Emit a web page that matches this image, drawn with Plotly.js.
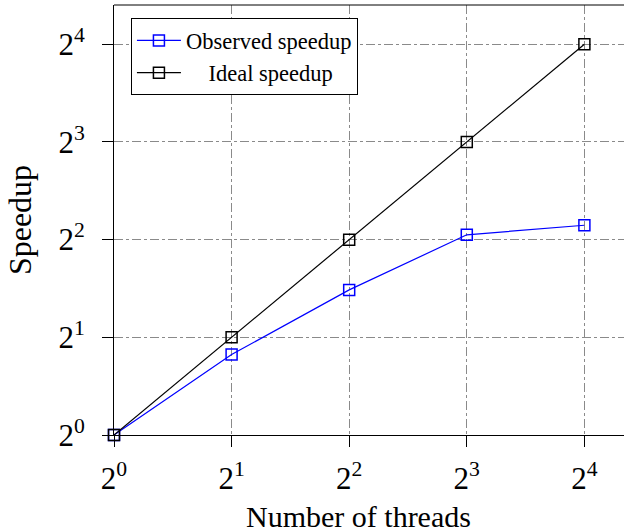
<!DOCTYPE html>
<html>
<head>
<meta charset="utf-8">
<script src="https://cdn.plot.ly/plotly-3.0.1.min.js"></script>
<style>html,body{margin:0;padding:0;overflow:hidden;background:#fff;width:624px;height:532px}</style>
</head>
<body>
<div id="chart" style="width:660px;height:532px"></div>
<script>
const threads = [1, 2, 4, 8, 16];
const observed = [1, 1.77, 2.80, 4.14, 4.43];
const ideal = [1, 2, 4, 8, 16];
const tickVals = [1, 2, 4, 8, 16];
const tickText = ['2<sup>0</sup>', '2<sup>1</sup>', '2<sup>2</sup>', '2<sup>3</sup>', '2<sup>4</sup>'];
const seriesNames = ['Observed speedup', '\u00a0\u00a0\u00a0\u00a0Ideal speedup'];
const xTitle = 'Number of threads';
const yTitle = 'Speedup';

const L2 = Math.log10(2);
const fontFam = '"Liberation Serif", "DejaVu Serif", serif';

const traces = [
  {x: threads, y: observed, name: seriesNames[0], mode: 'lines+markers', cliponaxis: false,
   line: {color: '#0000ff', width: 1.2},
   marker: {symbol: 'square-open', size: 11, color: '#0000ff', line: {width: 1.5}}},
  {x: threads, y: ideal, name: seriesNames[1], mode: 'lines+markers', cliponaxis: false,
   line: {color: '#000000', width: 1.2},
   marker: {symbol: 'square-open', size: 11, color: '#000000', line: {width: 1.5}}}
];

const layout = {
  width: 660, height: 532,
  margin: {l: 114, r: 0, t: 5, b: 97},
  paper_bgcolor: '#fff', plot_bgcolor: '#fff',
  font: {family: fontFam, color: '#000', size: 24},
  showlegend: true,
  legend: {x: 0.031, y: 0.969, xanchor: 'left', yanchor: 'top',
    bgcolor: '#fff', bordercolor: '#000', borderwidth: 1, itemwidth: 44,
    font: {family: fontFam, size: 22.5, color: '#000'}, tracegroupgap: 0},
  shapes: [
    {type: 'line', xref: 'paper', yref: 'paper', x0: 0, x1: 1, y0: 1, y1: 1,
     line: {color: '#000', width: 1}}
  ],
  annotations: [
    {text: xTitle, xref: 'paper', yref: 'paper', x: 0.447, y: -0.19,
     xanchor: 'center', yanchor: 'middle', showarrow: false,
     font: {family: fontFam, size: 30, color: '#000'}},
    {text: yTitle, xref: 'paper', yref: 'paper', x: -0.172, y: 0.5, textangle: -90,
     xanchor: 'center', yanchor: 'middle', showarrow: false,
     font: {family: fontFam, size: 32, color: '#000'}}
  ],
  xaxis: {type: 'log', range: [0, 4.643 * L2],
    tickvals: tickVals, ticktext: tickText,
    ticks: 'outside', ticklen: 11, tickcolor: '#000', tickwidth: 1,
    ticklabelstandoff: 5,
    showline: true, linecolor: '#000', linewidth: 1,
    showgrid: true, gridcolor: '#8a8a8a', griddash: 'dashdot', gridwidth: 1,
    zeroline: false,
    tickfont: {family: fontFam, size: 31}},
  yaxis: {type: 'log', range: [0, 4.402 * L2],
    tickvals: tickVals, ticktext: tickText,
    ticks: 'outside', ticklen: 11, tickcolor: '#000', tickwidth: 1,
    ticklabelstandoff: 11,
    showline: true, linecolor: '#000', linewidth: 1,
    showgrid: true, gridcolor: '#8a8a8a', griddash: 'dashdot', gridwidth: 1,
    zeroline: false,
    tickfont: {family: fontFam, size: 31}}
};

Plotly.newPlot('chart', traces, layout, {displayModeBar: false, staticPlot: true});
</script>
</body>
</html>
